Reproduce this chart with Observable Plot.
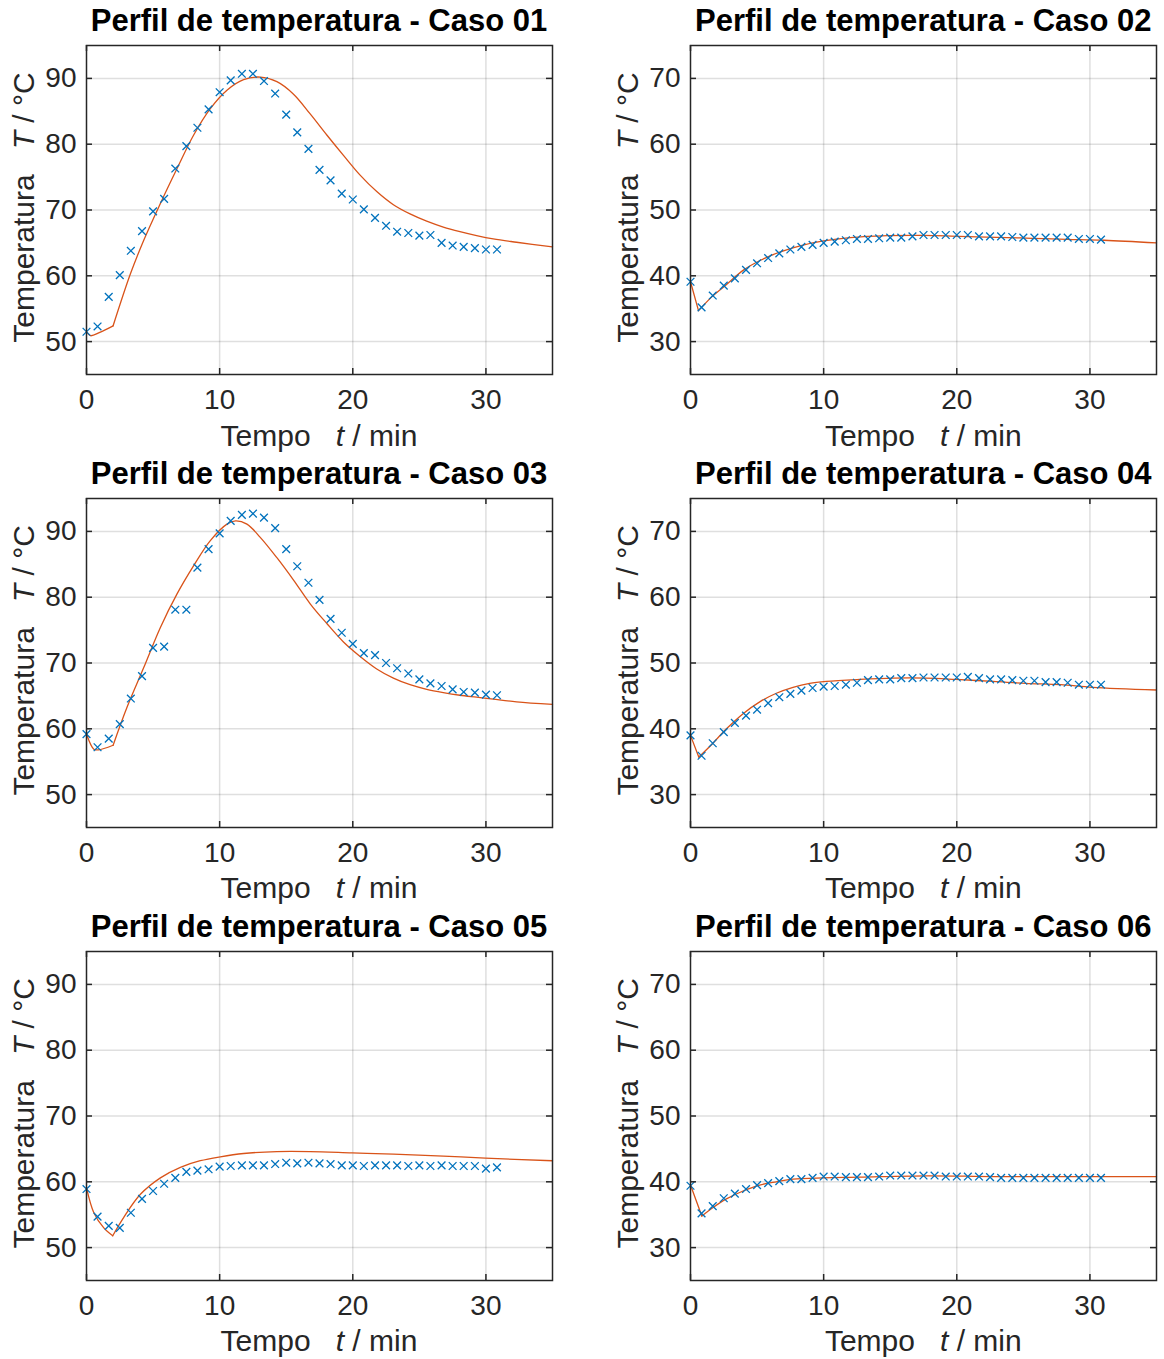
<!DOCTYPE html>
<html><head><meta charset="utf-8">
<script src="https://cdn.jsdelivr.net/npm/d3@7"></script>
<script src="https://cdn.jsdelivr.net/npm/@observablehq/plot@0.6"></script>
<style>
html,body{margin:0;padding:0;background:#fff;overflow:hidden}
#fig{position:relative;width:1164px;height:1359px;background:#fff}
#fig .panel{position:absolute}
#overlay{position:absolute;left:0;top:0;pointer-events:none}
</style></head><body><div id="fig"></div>
<script>
// ---- data ----
const tempo = [0, 0.83, 1.67, 2.5, 3.33, 4.17, 5, 5.83, 6.67, 7.5, 8.33, 9.17, 10, 10.83, 11.67, 12.5, 13.33, 14.17, 15, 15.83, 16.67, 17.5, 18.33, 19.17, 20, 20.83, 21.67, 22.5, 23.33, 24.17, 25, 25.83, 26.67, 27.5, 28.33, 29.17, 30, 30.83];

const casos = ["01", "02", "03", "04", "05", "06"];
const xTicks = [0, 10, 20, 30];
const xDomain = [0, 35];
const yTicksQuente = [50, 60, 70, 80, 90];
const yDomainQuente = [45, 95];
const yTicksFrio = [30, 40, 50, 60, 70];
const yDomainFrio = [25, 75];

// experimental (markers)
const exp01 = [51.5, 52.3, 56.8, 60.1, 63.8, 66.8, 69.8, 71.7, 76.3, 79.7, 82.5, 85.3, 87.9, 89.7, 90.7, 90.7, 89.6, 87.7, 84.5, 81.8, 79.3, 76.1, 74.5, 72.5, 71.6, 70.1, 68.8, 67.6, 66.7, 66.5, 66.1, 66.2, 65.0, 64.6, 64.4, 64.2, 64.0, 64.0];
const exp02 = [39.1, 35.2, 37.0, 38.5, 39.6, 40.9, 41.9, 42.7, 43.4, 44.0, 44.4, 44.7, 45.0, 45.2, 45.4, 45.6, 45.6, 45.7, 45.8, 45.8, 46.0, 46.2, 46.2, 46.2, 46.2, 46.2, 46.0, 46.0, 46.0, 45.9, 45.8, 45.8, 45.8, 45.8, 45.8, 45.6, 45.6, 45.5];
const exp03 = [59.2, 57.2, 58.5, 60.7, 64.6, 68.0, 72.3, 72.5, 78.1, 78.1, 84.5, 87.3, 89.7, 91.6, 92.5, 92.7, 92.1, 90.5, 87.3, 84.7, 82.2, 79.6, 76.7, 74.6, 72.9, 71.5, 71.2, 70.0, 69.2, 68.4, 67.5, 66.9, 66.5, 66.0, 65.6, 65.5, 65.2, 65.1];
const exp04 = [39.0, 35.9, 37.8, 39.5, 40.9, 42.0, 42.9, 43.9, 44.8, 45.3, 45.8, 46.2, 46.4, 46.5, 46.7, 47.0, 47.4, 47.5, 47.5, 47.7, 47.7, 47.8, 47.8, 47.8, 47.8, 47.9, 47.7, 47.5, 47.5, 47.4, 47.3, 47.3, 47.1, 47.1, 47.0, 46.7, 46.7, 46.7];
const exp05 = [58.9, 54.7, 53.3, 53.0, 55.3, 57.4, 58.6, 59.7, 60.6, 61.5, 61.7, 61.9, 62.3, 62.4, 62.5, 62.5, 62.5, 62.7, 62.9, 62.8, 62.9, 62.8, 62.7, 62.5, 62.5, 62.4, 62.5, 62.5, 62.5, 62.4, 62.5, 62.4, 62.5, 62.4, 62.4, 62.4, 62.0, 62.2];
const exp06 = [39.4, 35.2, 36.3, 37.5, 38.2, 38.9, 39.5, 39.8, 40.1, 40.4, 40.4, 40.6, 40.8, 40.8, 40.7, 40.7, 40.7, 40.8, 40.95, 40.95, 40.95, 40.95, 40.95, 40.8, 40.8, 40.8, 40.8, 40.7, 40.6, 40.6, 40.6, 40.6, 40.6, 40.6, 40.6, 40.6, 40.6, 40.6];

// model (line): times and temperatures; kink = index of the sharp corner
const modT01 = [0, 0.3, 1.0, 2.0, 3.3, 4.3, 5.55, 6.8, 8.05, 9.3, 10.55, 11.8, 13.05, 14.3, 15.55, 16.8, 18.05, 19.3, 20.55, 21.8, 23.05, 24.3, 25.55, 26.8, 28.05, 29.3, 30.55, 32.3, 35];
const modY01 = [51.5, 50.9, 51.4, 52.4, 60.3, 65.4, 71.0, 76.3, 81.4, 85.4, 88.2, 89.8, 90.2, 89.5, 87.6, 84.6, 81.4, 78.3, 75.3, 72.8, 70.8, 69.4, 68.3, 67.4, 66.7, 66.1, 65.6, 65.1, 64.4];
const modT02 = [0, 0.6, 1.6, 2.6, 4.0, 5.3, 6.7, 8.3, 10.0, 12.0, 14.8, 17.5, 20.2, 23.0, 25.65, 28.3, 31.06, 35];
const modY02 = [39.1, 34.7, 36.8, 38.5, 40.9, 42.4, 43.6, 44.6, 45.3, 45.8, 46.1, 46.15, 46.0, 45.85, 45.7, 45.55, 45.4, 45.0];
const modT03 = [0, 0.55, 0.9, 2.0, 3.05, 4.3, 5.55, 6.8, 8.05, 9.3, 10.55, 11.2, 12.05, 13.05, 14.3, 15.55, 16.8, 18.05, 19.3, 20.55, 21.8, 23.05, 24.3, 25.55, 26.8, 28.05, 29.3, 30.55, 32.3, 35];
const modY03 = [59.2, 56.9, 56.8, 57.5, 63.3, 69.3, 75.4, 80.5, 84.8, 88.6, 91.1, 91.6, 91.1, 89.1, 86.0, 82.6, 79.0, 76.0, 73.2, 71.0, 69.1, 67.7, 66.7, 66.0, 65.5, 65.1, 64.8, 64.5, 64.1, 63.7];
const modT04 = [0, 0.62, 1.63, 2.7, 3.95, 5.2, 6.45, 7.7, 8.95, 10.2, 12.7, 15.2, 17.7, 19.95, 22.75, 25.2, 27.8, 30.2, 35];
const modY04 = [39.0, 35.7, 37.7, 40.0, 42.3, 44.1, 45.4, 46.3, 46.9, 47.2, 47.5, 47.7, 47.7, 47.5, 47.2, 46.9, 46.7, 46.3, 45.9];
const modT05 = [0, 0.55, 1.3, 1.97, 2.8, 4.05, 5.55, 7.05, 8.55, 10.05, 11.8, 14.3, 16.8, 19.95, 23.05, 26.8, 29.95, 35];
const modY05 = [59.1, 55.3, 53.0, 51.8, 54.6, 58.1, 60.6, 62.2, 63.2, 63.8, 64.3, 64.6, 64.6, 64.4, 64.2, 63.9, 63.6, 63.2];
const modT06 = [0, 0.85, 1.7, 2.7, 3.95, 5.2, 6.45, 7.7, 9.95, 12.7, 17.7, 22.7, 27.8, 35];
const modY06 = [39.5, 34.8, 36.1, 37.4, 38.6, 39.5, 40.0, 40.4, 40.6, 40.7, 40.9, 40.8, 40.8, 40.8];
const kinks = [3, 1, 3, 1, 3, 1];

// ---- styling / layout ----
const FONT = '"Liberation Sans", Arial, Helvetica, sans-serif';
const INK = "#262626";
const BLUE = "#0072BD";
const ORANGE = "#D95319";
const colLeft = [86, 690.3];
const rowTop = [45, 497.9, 950.8];
const plotW = 466, plotH = 329;
const M = {l: 50, r: 7, t: 6, b: 42};

const paineis = [
  {caso: casos[0], exp: exp01, modT: modT01, modY: modY01, yTicks: yTicksQuente, yDomain: yDomainQuente},
  {caso: casos[1], exp: exp02, modT: modT02, modY: modY02, yTicks: yTicksFrio, yDomain: yDomainFrio},
  {caso: casos[2], exp: exp03, modT: modT03, modY: modY03, yTicks: yTicksQuente, yDomain: yDomainQuente},
  {caso: casos[3], exp: exp04, modT: modT04, modY: modY04, yTicks: yTicksFrio, yDomain: yDomainFrio},
  {caso: casos[4], exp: exp05, modT: modT05, modY: modY05, yTicks: yTicksQuente, yDomain: yDomainQuente},
  {caso: casos[5], exp: exp06, modT: modT06, modY: modY06, yTicks: yTicksFrio, yDomain: yDomainFrio}
];

const fig = document.getElementById("fig");
const overlay = d3.select(fig).append("svg").attr("id", "overlay")
  .attr("width", 1164).attr("height", 1359);

paineis.forEach((p, i) => {
  const r = Math.floor(i / 2), c = i % 2;
  const fl = colLeft[c], ft = rowTop[r];
  const pts = tempo.map((t, j) => ({t, T: p.exp[j]}));
  const lineRows = [];
  p.modT.forEach((t, j) => {
    if (j <= kinks[i]) lineRows.push({t, T: p.modY[j], seg: 0});
    if (j >= kinks[i]) lineRows.push({t, T: p.modY[j], seg: 1});
  });
  const chart = Plot.plot({
    width: plotW + M.l + M.r,
    height: plotH + M.t + M.b,
    marginLeft: M.l, marginRight: M.r, marginTop: M.t, marginBottom: M.b,
    x: {domain: xDomain},
    y: {domain: p.yDomain},
    style: {fontFamily: FONT, fontSize: "28px", color: INK, background: "none", overflow: "visible"},
    marks: [
      Plot.gridX(xTicks.filter(d => d > xDomain[0]), {stroke: INK, strokeOpacity: 0.15, strokeWidth: 1.5}),
      Plot.gridY(p.yTicks, {stroke: INK, strokeOpacity: 0.15, strokeWidth: 1.5}),
      Plot.line(lineRows, {x: "t", y: "T", z: "seg", stroke: ORANGE, strokeWidth: 1.3, curve: "catmull-rom"}),
      Plot.dot(pts, {x: "t", y: "T", symbol: "times", r: 3.6, stroke: BLUE, strokeWidth: 1.3}),
      Plot.tickX(xTicks, {x: d => d, insetTop: plotH - 6, stroke: INK, strokeWidth: 1.5}),
      Plot.tickX(xTicks, {x: d => d, insetBottom: plotH - 6, stroke: INK, strokeWidth: 1.5}),
      Plot.tickY(p.yTicks, {y: d => d, insetRight: plotW - 6, stroke: INK, strokeWidth: 1.5}),
      Plot.tickY(p.yTicks, {y: d => d, insetLeft: plotW - 6, stroke: INK, strokeWidth: 1.5}),
      Plot.frame({stroke: INK, strokeWidth: 1.5}),
      Plot.axisX(xTicks, {anchor: "bottom", tickSize: 0, tickPadding: 14.6, fontSize: 28, label: null}),
      Plot.axisY(p.yTicks, {anchor: "left", tickSize: 0, tickPadding: 10, fontSize: 28, label: null})
    ]
  });
  const wrap = document.createElement("div");
  wrap.className = "panel";
  wrap.style.left = (fl - M.l) + "px";
  wrap.style.top = (ft - M.t) + "px";
  wrap.appendChild(chart);
  fig.insertBefore(wrap, overlay.node());

  const cx = fl + plotW / 2;
  overlay.append("text")
    .attr("x", cx).attr("y", ft - 14)
    .attr("text-anchor", "middle")
    .attr("font-family", FONT).attr("font-weight", "bold").attr("font-size", 31)
    .attr("fill", "#000")
    .text(`Perfil de temperatura - Caso ${p.caso}`);

  const xl = overlay.append("text")
    .attr("x", cx).attr("y", ft + plotH + 71.5)
    .attr("text-anchor", "middle")
    .attr("font-family", FONT).attr("font-size", 30).attr("fill", INK)
    .style("white-space", "pre");
  xl.append("tspan").text("Tempo   ");
  xl.append("tspan").attr("font-style", "italic").text("t");
  xl.append("tspan").text(" / min");

  const yl = overlay.append("text")
    .attr("transform", `translate(${fl - 52},${ft + plotH / 2 - 2}) rotate(-90)`)
    .attr("text-anchor", "middle")
    .attr("font-family", FONT).attr("font-size", 30).attr("fill", INK)
    .style("white-space", "pre");
  yl.append("tspan").text("Temperatura   ");
  yl.append("tspan").attr("font-style", "italic").text("T");
  yl.append("tspan").text(" / °C");
});
</script></body></html>
